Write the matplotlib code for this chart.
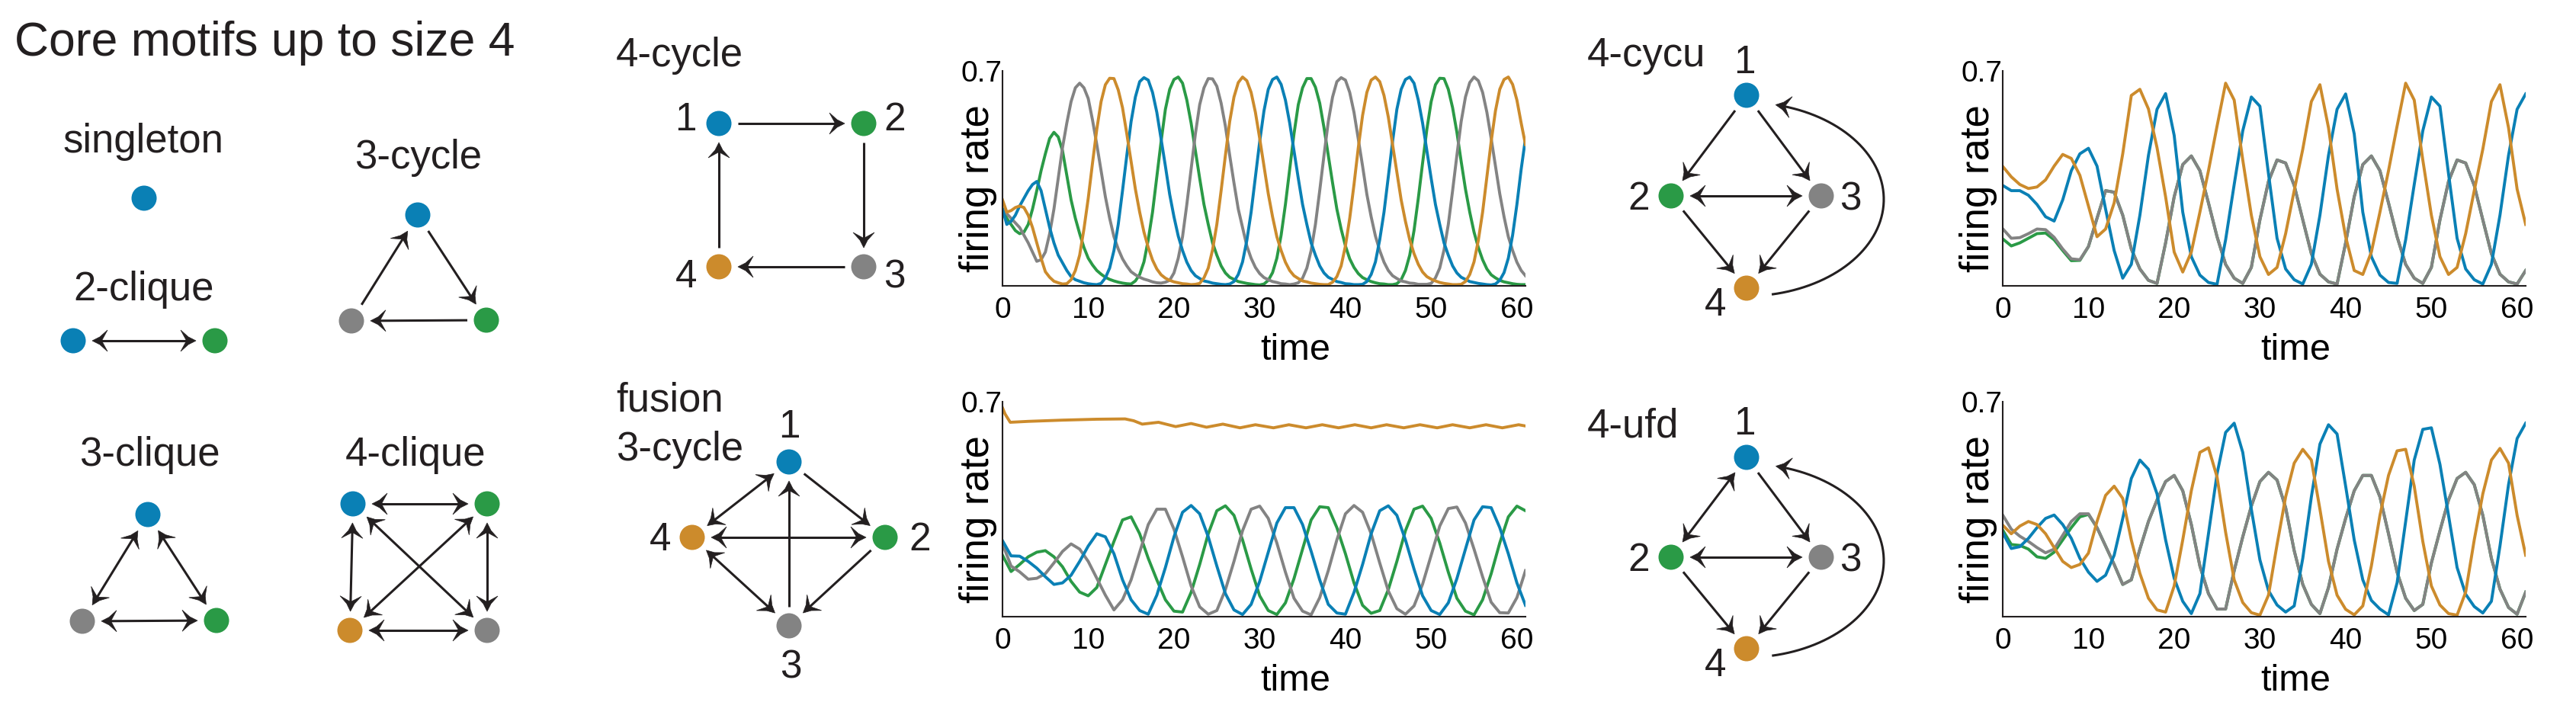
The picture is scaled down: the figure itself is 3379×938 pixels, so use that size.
import numpy as np
import matplotlib
matplotlib.use('Agg')
import matplotlib.pyplot as plt
from matplotlib.patches import Circle, Polygon

plt.rcParams['font.family'] = ['Liberation Sans', 'DejaVu Sans']

BLUE, GREEN, GRAY, ORANGE = '#0a80b5', '#2a9a46', '#838383', '#cc8b2c'
INK = '#231f20'
NODE_COLORS = {1: BLUE, 2: GREEN, 3: GRAY, 4: ORANGE}

# ---------------------------------------------------------------- data
time = list(range(62))
half_time = [t + 0.5 for t in range(61)]

# 4-cycle: readings at whole times and, for the sharp peaks, at half times
c4_blue = [0.25, 0.21, 0.26, 0.31, 0.34, 0.25, 0.14, 0.075, 0.03, 0.015,
           0.007, 0.004, 0.026, 0.115, 0.31, 0.535, 0.665, 0.67, 0.565, 0.39,
           0.225, 0.115, 0.05, 0.024, 0.013, 0.007, 0.004, 0.014, 0.078, 0.24,
           0.47, 0.64, 0.68, 0.605, 0.44, 0.265, 0.14, 0.065, 0.028, 0.014,
           0.007, 0.004, 0.005, 0.037, 0.15, 0.355, 0.575, 0.672, 0.66, 0.53,
           0.35, 0.2, 0.1, 0.042, 0.021, 0.011, 0.006, 0.003, 0.018, 0.09,
           0.265, 0.48]
c4_blue_mid = [0.2, 0.23, 0.285, 0.33, 0.31, 0.19, 0.1, 0.05, 0.02, 0.01,
               0.005, 0.008, 0.058, 0.2, 0.425, 0.615, 0.678, 0.63, 0.478, 0.298,
               0.162, 0.077, 0.033, 0.016, 0.009, 0.005, 0.006, 0.037, 0.148, 0.355,
               0.57, 0.672, 0.656, 0.53, 0.35, 0.2, 0.1, 0.042, 0.021, 0.011,
               0.006, 0.004, 0.014, 0.078, 0.24, 0.47, 0.64, 0.68, 0.605, 0.44,
               0.265, 0.14, 0.065, 0.028, 0.014, 0.008, 0.004, 0.006, 0.043, 0.165,
               0.38]
c4_green = [0.25, 0.2, 0.17, 0.2, 0.31, 0.43, 0.5, 0.44, 0.28, 0.17,
            0.09, 0.05, 0.028, 0.016, 0.009, 0.006, 0.037, 0.15, 0.355, 0.575,
            0.672, 0.66, 0.53, 0.35, 0.2, 0.1, 0.042, 0.021, 0.011, 0.006,
            0.003, 0.018, 0.09, 0.265, 0.495, 0.645, 0.675, 0.595, 0.425, 0.25,
            0.13, 0.06, 0.027, 0.014, 0.007, 0.004, 0.007, 0.05, 0.18, 0.4,
            0.6, 0.676, 0.64, 0.5, 0.315, 0.175, 0.085, 0.036, 0.018, 0.01,
            0.005, 0.004]
c4_green_mid = [0.22, 0.18, 0.175, 0.25, 0.375, 0.48, 0.485, 0.36, 0.22, 0.125,
                0.068, 0.038, 0.021, 0.012, 0.007, 0.016, 0.078, 0.24, 0.47, 0.64,
                0.68, 0.605, 0.44, 0.265, 0.14, 0.065, 0.028, 0.014, 0.008, 0.004,
                0.006, 0.043, 0.165, 0.38, 0.59, 0.675, 0.647, 0.515, 0.335, 0.185,
                0.088, 0.04, 0.02, 0.01, 0.006, 0.004, 0.02, 0.1, 0.285, 0.51,
                0.655, 0.675, 0.58, 0.405, 0.24, 0.125, 0.055, 0.026, 0.013, 0.007,
                0.004]
c4_gray = [0.25, 0.22, 0.19, 0.14, 0.08, 0.11, 0.25, 0.45, 0.6, 0.66,
           0.61, 0.46, 0.29, 0.16, 0.088, 0.046, 0.028, 0.018, 0.01, 0.012,
           0.042, 0.16, 0.38, 0.59, 0.675, 0.65, 0.52, 0.335, 0.19, 0.09,
           0.04, 0.02, 0.011, 0.006, 0.006, 0.025, 0.115, 0.31, 0.535, 0.665,
           0.67, 0.565, 0.39, 0.225, 0.115, 0.05, 0.024, 0.013, 0.008, 0.005,
           0.008, 0.058, 0.2, 0.425, 0.615, 0.68, 0.63, 0.48, 0.3, 0.16,
           0.077, 0.033]
c4_gray_mid = [0.235, 0.205, 0.165, 0.11, 0.085, 0.17, 0.35, 0.53, 0.645, 0.645,
               0.54, 0.375, 0.22, 0.12, 0.065, 0.036, 0.022, 0.013, 0.009, 0.018,
               0.09, 0.265, 0.495, 0.645, 0.674, 0.595, 0.425, 0.25, 0.13, 0.06,
               0.027, 0.014, 0.007, 0.004, 0.01, 0.058, 0.2, 0.425, 0.615, 0.678,
               0.63, 0.478, 0.298, 0.162, 0.077, 0.033, 0.016, 0.009, 0.005, 0.005,
               0.026, 0.117, 0.31, 0.535, 0.662, 0.668, 0.565, 0.39, 0.225, 0.115,
               0.05]
c4_orange = [0.28, 0.245, 0.26, 0.23, 0.14, 0.046, 0.015, 0.006, 0.02, 0.1,
             0.285, 0.51, 0.655, 0.675, 0.58, 0.405, 0.24, 0.125, 0.055, 0.025,
             0.013, 0.007, 0.004, 0.008, 0.058, 0.2, 0.425, 0.615, 0.68, 0.63,
             0.48, 0.3, 0.16, 0.077, 0.033, 0.016, 0.009, 0.005, 0.004, 0.03,
             0.13, 0.33, 0.555, 0.67, 0.665, 0.55, 0.37, 0.21, 0.105, 0.045,
             0.022, 0.011, 0.006, 0.004, 0.014, 0.078, 0.24, 0.47, 0.64, 0.68,
             0.605, 0.46]
c4_orange_mid = [0.24, 0.255, 0.255, 0.19, 0.09, 0.028, 0.01, 0.007, 0.05, 0.185,
                 0.4, 0.6, 0.676, 0.638, 0.495, 0.315, 0.175, 0.084, 0.036, 0.018,
                 0.01, 0.006, 0.005, 0.026, 0.117, 0.31, 0.535, 0.662, 0.668, 0.565,
                 0.39, 0.225, 0.115, 0.05, 0.024, 0.013, 0.007, 0.004, 0.012, 0.065,
                 0.22, 0.45, 0.63, 0.68, 0.62, 0.46, 0.28, 0.15, 0.07, 0.03,
                 0.016, 0.008, 0.004, 0.005, 0.037, 0.148, 0.355, 0.57, 0.672, 0.656,
                 0.53]

# fusion 3-cycle
fu_blue = [0.2475, 0.198, 0.197, 0.18, 0.158, 0.13, 0.105, 0.11, 0.135, 0.18,
           0.23, 0.27, 0.26, 0.205, 0.12, 0.055, 0.02, 0.008, 0.07, 0.16,
           0.26, 0.34, 0.362, 0.335, 0.26, 0.165, 0.075, 0.022, 0.007, 0.04,
           0.115, 0.21, 0.305, 0.355, 0.355, 0.3, 0.213, 0.12, 0.04, 0.012,
           0.008, 0.079, 0.17, 0.27, 0.345, 0.361, 0.33, 0.25, 0.155, 0.068,
           0.02, 0.007, 0.045, 0.124, 0.22, 0.315, 0.358, 0.355, 0.29, 0.205,
           0.11, 0.037]
fu_green = [0.2, 0.147, 0.17, 0.195, 0.21, 0.215, 0.195, 0.1625, 0.115, 0.08,
            0.068, 0.095, 0.17, 0.245, 0.315, 0.325, 0.27, 0.19, 0.12, 0.055,
            0.018, 0.015, 0.079, 0.17, 0.27, 0.345, 0.361, 0.33, 0.25, 0.155,
            0.068, 0.02, 0.007, 0.045, 0.124, 0.22, 0.315, 0.358, 0.355, 0.29,
            0.205, 0.11, 0.037, 0.011, 0.02, 0.088, 0.18, 0.28, 0.35, 0.36,
            0.32, 0.24, 0.145, 0.06, 0.018, 0.006, 0.055, 0.14, 0.24, 0.325,
            0.36, 0.345]
fu_gray = [0.2375, 0.165, 0.146, 0.122, 0.125, 0.14, 0.175, 0.2125, 0.237, 0.22,
           0.18, 0.125, 0.07, 0.022, 0.055, 0.12, 0.21, 0.3, 0.35, 0.35,
           0.285, 0.195, 0.1, 0.032, 0.008, 0.02, 0.088, 0.18, 0.28, 0.35,
           0.36, 0.32, 0.24, 0.145, 0.06, 0.018, 0.006, 0.062, 0.15, 0.25,
           0.335, 0.362, 0.34, 0.27, 0.175, 0.084, 0.026, 0.008, 0.035, 0.106,
           0.2, 0.295, 0.352, 0.357, 0.305, 0.22, 0.13, 0.047, 0.013, 0.012,
           0.062, 0.15]
fu_orange_t = [0, 0.3, 0.9, 3, 7, 11, 14.3, 15.3, 16.3,
               18.2, 20.2, 22.0, 23.8, 25.7, 27.7, 29.5, 31.6, 33.4, 35.4,
               37.3, 39.2, 41.1, 43.0, 44.8, 46.8, 48.7, 50.7, 52.5, 54.5,
               56.4, 58.3, 60.2, 61]
fu_orange = [0.68, 0.66, 0.633, 0.636, 0.64, 0.643, 0.644, 0.638, 0.627,
             0.633, 0.619, 0.629, 0.617, 0.627, 0.615, 0.625, 0.615, 0.625, 0.615,
             0.625, 0.615, 0.625, 0.615, 0.625, 0.615, 0.625, 0.615, 0.625, 0.615,
             0.625, 0.615, 0.625, 0.621]

# 4-cycu
cu_blue = [0.327, 0.31, 0.31, 0.295, 0.265, 0.225, 0.211, 0.28, 0.375, 0.43,
           0.448, 0.39, 0.25, 0.115, 0.025, 0.07, 0.23, 0.425, 0.575, 0.626,
           0.49, 0.24, 0.095, 0.035, 0.011, 0.005, 0.15, 0.33, 0.505, 0.615,
           0.585, 0.365, 0.155, 0.055, 0.02, 0.006, 0.07, 0.23, 0.425, 0.575,
           0.625, 0.495, 0.24, 0.095, 0.035, 0.011, 0.008, 0.15, 0.33, 0.505,
           0.615, 0.585, 0.365, 0.155, 0.055, 0.02, 0.006, 0.07, 0.23, 0.425,
           0.575, 0.625]
cu_green = [0.153, 0.13, 0.14, 0.155, 0.17, 0.172, 0.15, 0.115, 0.082, 0.083,
            0.128, 0.22, 0.31, 0.305, 0.23, 0.12, 0.055, 0.018, 0.008, 0.14,
            0.29, 0.395, 0.423, 0.375, 0.27, 0.16, 0.07, 0.025, 0.008, 0.06,
            0.215, 0.34, 0.41, 0.4, 0.327, 0.215, 0.105, 0.038, 0.013, 0.006,
            0.14, 0.29, 0.395, 0.423, 0.375, 0.27, 0.16, 0.07, 0.025, 0.008,
            0.06, 0.215, 0.34, 0.41, 0.4, 0.327, 0.215, 0.105, 0.038, 0.013,
            0.006, 0.05]
cu_gray = [0.186, 0.155, 0.157, 0.17, 0.185, 0.183, 0.158, 0.12, 0.088, 0.085,
           0.128, 0.22, 0.31, 0.305, 0.23, 0.12, 0.055, 0.018, 0.008, 0.14,
           0.29, 0.395, 0.423, 0.375, 0.27, 0.16, 0.07, 0.025, 0.008, 0.06,
           0.215, 0.34, 0.41, 0.4, 0.327, 0.215, 0.105, 0.038, 0.013, 0.006,
           0.14, 0.29, 0.395, 0.423, 0.375, 0.27, 0.16, 0.07, 0.025, 0.008,
           0.06, 0.215, 0.34, 0.41, 0.4, 0.327, 0.215, 0.105, 0.038, 0.013,
           0.006, 0.05]
cu_orange = [0.389, 0.355, 0.33, 0.317, 0.322, 0.345, 0.39, 0.428, 0.415, 0.36,
             0.26, 0.16, 0.185, 0.27, 0.43, 0.62, 0.64, 0.576, 0.45, 0.29,
             0.11, 0.045, 0.11, 0.24, 0.375, 0.52, 0.66, 0.605, 0.41, 0.23,
             0.095, 0.037, 0.06, 0.17, 0.31, 0.445, 0.6, 0.655, 0.515, 0.315,
             0.16, 0.05, 0.037, 0.11, 0.24, 0.375, 0.52, 0.66, 0.605, 0.41,
             0.23, 0.095, 0.037, 0.06, 0.17, 0.31, 0.445, 0.6, 0.655, 0.515,
             0.315, 0.2]

# 4-ufd
uf_blue = [0.273, 0.222, 0.228, 0.255, 0.29, 0.32, 0.331, 0.3, 0.255, 0.19,
           0.145, 0.115, 0.135, 0.2, 0.32, 0.45, 0.51, 0.48, 0.4, 0.25,
           0.125, 0.05, 0.01, 0.075, 0.27, 0.465, 0.6, 0.63, 0.535, 0.35,
           0.185, 0.085, 0.038, 0.015, 0.035, 0.19, 0.39, 0.562, 0.625, 0.595,
           0.425, 0.25, 0.12, 0.053, 0.025, 0.006, 0.11, 0.31, 0.51, 0.61,
           0.615, 0.496, 0.33, 0.16, 0.073, 0.033, 0.012, 0.05, 0.23, 0.43,
           0.58, 0.63]
uf_green = [0.282, 0.235, 0.232, 0.22, 0.195, 0.19, 0.21, 0.25, 0.29, 0.325,
            0.333, 0.29, 0.23, 0.17, 0.105, 0.12, 0.22, 0.31, 0.38, 0.44,
            0.46, 0.41, 0.3, 0.165, 0.075, 0.025, 0.025, 0.15, 0.26, 0.36,
            0.44, 0.47, 0.445, 0.355, 0.215, 0.105, 0.04, 0.01, 0.095, 0.22,
            0.32, 0.41, 0.46, 0.46, 0.39, 0.27, 0.145, 0.06, 0.02, 0.04,
            0.175, 0.28, 0.38, 0.45, 0.47, 0.43, 0.33, 0.19, 0.09, 0.03,
            0.008, 0.08]
uf_gray = [0.331, 0.285, 0.262, 0.245, 0.225, 0.208, 0.22, 0.265, 0.31, 0.335,
           0.335, 0.29, 0.23, 0.17, 0.105, 0.12, 0.22, 0.31, 0.38, 0.44,
           0.46, 0.41, 0.3, 0.165, 0.075, 0.025, 0.025, 0.15, 0.26, 0.36,
           0.44, 0.47, 0.445, 0.355, 0.215, 0.105, 0.04, 0.01, 0.095, 0.22,
           0.32, 0.41, 0.46, 0.46, 0.39, 0.27, 0.145, 0.06, 0.02, 0.04,
           0.175, 0.28, 0.38, 0.45, 0.47, 0.43, 0.33, 0.19, 0.09, 0.03,
           0.008, 0.08]
uf_orange = [0.298, 0.27, 0.295, 0.31, 0.3, 0.27, 0.225, 0.18, 0.16, 0.17,
             0.207, 0.31, 0.395, 0.425, 0.385, 0.25, 0.141, 0.06, 0.022, 0.015,
             0.1, 0.25, 0.41, 0.535, 0.55, 0.455, 0.275, 0.12, 0.046, 0.013,
             0.005, 0.07, 0.235, 0.39, 0.5, 0.545, 0.51, 0.35, 0.18, 0.07,
             0.024, 0.006, 0.035, 0.165, 0.33, 0.46, 0.54, 0.545, 0.425, 0.245,
             0.1, 0.038, 0.01, 0.005, 0.08, 0.25, 0.4, 0.51, 0.548, 0.5,
             0.33, 0.2]

# ---------------------------------------------------------------- diagram layout (pixels)
LAYOUT = {
    'singleton': {1: (189, 260)},
    '2-clique': {1: (96, 447), 2: (282, 447)},
    '3-cycle': {1: (548, 282), 2: (638, 420), 3: (461, 421)},
    '3-clique': {1: (194, 675), 2: (284, 814), 3: (108, 815)},
    '4-clique': {1: (463, 661), 2: (639, 661), 3: (639, 827), 4: (459, 827)},
    '4-cycle': {1: (943, 162), 2: (1133, 162), 3: (1133, 350), 4: (943, 350)},
    'fusion': {1: (1035, 606), 2: (1161, 705), 3: (1035, 821), 4: (908, 705)},
    '4-cycu': {1: (2291, 125), 2: (2192, 257), 3: (2389, 257), 4: (2291, 378)},
    '4-ufd': {1: (2291, 600), 2: (2192, 731), 3: (2389, 731), 4: (2291, 851)},
}
EDGES = {
    '2-clique': [(1, 2, True)],
    '3-cycle': [(3, 1, False), (1, 2, False), (2, 3, False)],
    '3-clique': [(1, 2, True), (1, 3, True), (2, 3, True)],
    '4-clique': [(1, 2, True), (1, 3, True), (1, 4, True),
                 (2, 3, True), (2, 4, True), (3, 4, True)],
    '4-cycle': [(1, 2, False), (2, 3, False), (3, 4, False), (4, 1, False)],
    'fusion': [(4, 1, True), (1, 2, False), (2, 4, True),
               (2, 3, False), (3, 4, True), (3, 1, False)],
    '4-cycu': [(1, 2, False), (1, 3, False), (2, 3, True), (2, 4, False), (3, 4, False)],
    '4-ufd': [(1, 2, True), (1, 3, False), (2, 3, True), (2, 4, False), (3, 4, False)],
}
NUMBERS = {
    '4-cycle': {1: (899, 171), 2: (1174, 171), 3: (1173, 377), 4: (900, 377)},
    'fusion': {1: (1035, 574), 2: (1207, 722), 3: (1037, 889), 4: (866, 722)},
    '4-cycu': {1: (2288, 96), 2: (2150, 275), 3: (2427, 275), 4: (2250, 414)},
    '4-ufd': {1: (2288, 570), 2: (2150, 749), 3: (2427, 749), 4: (2250, 887)},
}
NAMES = [('singleton', 188, 200, 'center'), ('3-cycle', 549, 221, 'center'),
         ('2-clique', 189, 394, 'center'), ('3-clique', 196, 611, 'center'),
         ('4-clique', 545, 611, 'center'), ('4-cycle', 808, 87, 'left'),
         ('fusion', 808, 539, 'left'), ('3-cycle', 808, 604, 'left'),
         ('4-cycu', 2082, 87, 'left'), ('4-ufd', 2082, 574, 'left')]

HEAD_L, HEAD_W, NOTCH = 20, 14, 0.62


def draw_head(ax, tip, u):
    # barbed head with slightly concave flanks
    n = np.array([-u[1], u[0]])
    pts = [tip,
           tip - 0.5 * HEAD_L * u + 0.36 * HEAD_W * n,
           tip - HEAD_L * u + HEAD_W * n,
           tip - NOTCH * HEAD_L * u,
           tip - HEAD_L * u - HEAD_W * n,
           tip - 0.5 * HEAD_L * u - 0.36 * HEAD_W * n]
    ax.add_patch(Polygon(pts, closed=True, fc=INK, ec=INK, lw=0.5, zorder=3))


def draw_edge(ax, a, b, both, gap=25):
    a, b = np.asarray(a, float), np.asarray(b, float)
    u = (b - a) / np.hypot(*(b - a))
    p, q = a + gap * u, b - gap * u
    s = p + 0.5 * HEAD_L * u if both else p
    e = q - 0.5 * HEAD_L * u
    ax.plot([s[0], e[0]], [s[1], e[1]], color=INK, lw=2.2, solid_capstyle='butt', zorder=2)
    draw_head(ax, q, u)
    if both:
        draw_head(ax, p, -u)


def draw_arc(ax, top, bottom):
    # curved 4 -> 1 edge running round the right-hand side
    cx, cy = top[0] - 1, (top[1] + bottom[1]) / 2 + 10
    rx, ry = 181, 127
    start = (bottom[0] + 33, bottom[1] + 8)
    tip = (top[0] + 38, top[1] + 13)
    th0 = np.arctan2((start[1] - cy) / ry, (start[0] - cx) / rx)
    th1 = np.arctan2((tip[1] - cy) / ry, (tip[0] - cx) / rx)
    th = np.linspace(th0, th1, 200)
    xs, ys = cx + rx * np.cos(th), cy + ry * np.sin(th)
    end = np.array([xs[-1], ys[-1]])
    keep = np.hypot(xs - end[0], ys - end[1]) > 0.5 * HEAD_L
    ax.plot(xs[keep], ys[keep], color=INK, lw=2.2, solid_capstyle='butt', zorder=2)
    u = np.array([rx * np.sin(th1), -ry * np.cos(th1)])
    draw_head(ax, end, u / np.hypot(*u))


def merged(whole, mid):
    # put the whole-time and half-time readings back in time order
    t = np.empty(len(whole) + len(mid))
    y = np.empty_like(t)
    t[0::2], t[1::2] = time, half_time
    y[0::2], y[1::2] = whole, mid
    return t, y


fig = plt.figure(figsize=(33.8, 9.38), dpi=100)
canvas = fig.add_axes([0, 0, 1, 1])
canvas.set_xlim(0, 3380)
canvas.set_ylim(938, 0)
canvas.axis('off')

canvas.text(19, 73, 'Core motifs up to size 4', fontsize=45, color=INK,
            ha='left', va='baseline')
for name, x, y, ha in NAMES:
    canvas.text(x, y, name, fontsize=38, color=INK, ha=ha, va='baseline')

for motif, nodes in LAYOUT.items():
    for a, b, both in EDGES.get(motif, []):
        draw_edge(canvas, nodes[a], nodes[b], both)
    if motif in ('4-cycu', '4-ufd'):
        draw_arc(canvas, nodes[1], nodes[4])
    for k, (x, y) in nodes.items():
        canvas.add_patch(Circle((x, y), 16.5, color=NODE_COLORS[k], lw=0, zorder=4))
    for k, (x, y) in NUMBERS.get(motif, {}).items():
        canvas.text(x, y, str(k), fontsize=37, color=INK, ha='center', va='baseline')

# ---------------------------------------------------------------- firing-rate panels
W, H = 3380, 938
panels = [
    ((1315, 375), [(*merged(c4_green, c4_green_mid), GREEN),
                   (*merged(c4_gray, c4_gray_mid), GRAY),
                   (*merged(c4_blue, c4_blue_mid), BLUE),
                   (*merged(c4_orange, c4_orange_mid), ORANGE)]),
    ((1315, 809), [(time, fu_green, GREEN), (time, fu_gray, GRAY),
                   (time, fu_blue, BLUE), (fu_orange_t, fu_orange, ORANGE)]),
    ((2627, 375), [(time, cu_green, GREEN), (time, cu_gray, GRAY),
                   (time, cu_blue, BLUE), (time, cu_orange, ORANGE)]),
    ((2627, 809), [(time, uf_green, GREEN), (time, uf_gray, GRAY),
                   (time, uf_blue, BLUE), (time, uf_orange, ORANGE)]),
]
for (x0, y0), curves in panels:
    ax = fig.add_axes([x0 / W, (H - y0) / H, 686 / W, 282 / H])
    for t, y, c in curves:
        ax.plot(t, y, color=c, lw=2.8, solid_joinstyle='round')
    ax.set_xlim(0, 61)
    ax.set_ylim(0, 0.7)
    ax.set_xticks(range(0, 61, 10))
    ax.set_yticks([0.7])
    ax.set_yticklabels(['0.7'])
    ax.tick_params(length=0, labelsize=28, labelcolor='black')
    ax.tick_params(axis='x', pad=10)
    ax.tick_params(axis='y', pad=0)
    for side in ('top', 'right'):
        ax.spines[side].set_visible(False)
    for side in ('left', 'bottom'):
        ax.spines[side].set_color(INK)
        ax.spines[side].set_linewidth(1.5)
    ax.set_xlabel('time', fontsize=35, color='black')
    ax.set_ylabel('firing rate', fontsize=38, color='black')
    ax.xaxis.set_label_coords(0.56, -0.22)
    ax.yaxis.set_label_coords(-0.01, 0.454)

fig.savefig('out.png', dpi=100)
